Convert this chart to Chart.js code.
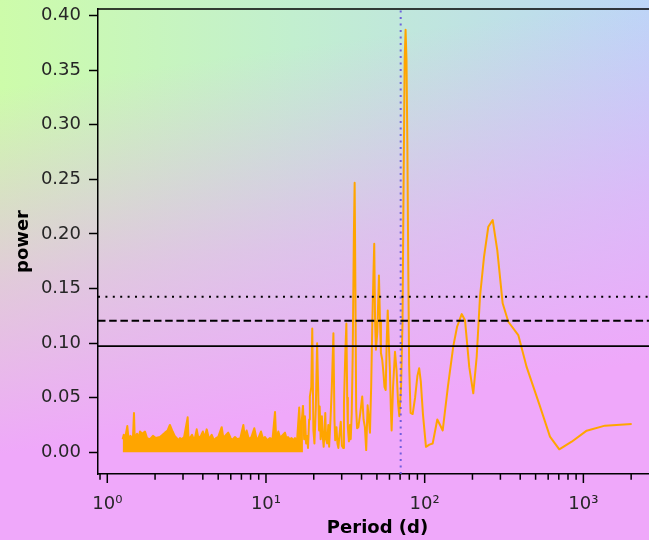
<!DOCTYPE html>
<html>
<head>
<meta charset="utf-8">
<script src="https://cdn.jsdelivr.net/npm/chart.js@4.4.1/dist/chart.umd.min.js"></script>
<style>
  html, body { margin: 0; padding: 0; overflow: hidden; }
  #wrap {
    position: relative; width: 649px; height: 540px; overflow: hidden;
    background:
      linear-gradient(172deg, rgba(239,168,250,0) 14%, rgba(239,168,250,0.6) 45%, rgba(239,168,250,1) 72%),
      linear-gradient(90deg, #cdfcaa 0%, #c2efcf 45%, #bcd6f7 100%);
  }
  canvas { position: absolute; left: 0; top: 0; }
</style>
</head>
<body>
<div id="wrap"><canvas id="c" width="680" height="540"></canvas></div>
<script>
// periodogram: dense noise floor (upper envelope) below ~17 d
const noisePeriod = [1.25, 1.27, 1.30, 1.337, 1.36, 1.40, 1.45, 1.473, 1.49, 1.54, 1.58, 1.607, 1.66, 1.728, 1.78,
  1.858, 1.94, 2.02, 2.148, 2.23, 2.31, 2.40, 2.48, 2.58, 2.66, 2.74, 2.80, 2.87, 2.95, 3.05, 3.21, 3.25, 3.35,
  3.42, 3.50, 3.58, 3.66, 3.75, 3.89, 4.0, 4.1, 4.23, 4.38, 4.55, 4.7, 4.84, 5.0, 5.26, 5.4, 5.52, 5.78, 6.0,
  6.1, 6.38, 6.6, 6.9, 7.2, 7.35, 7.55, 7.8, 8.1, 8.44, 8.7, 8.9, 9.3, 9.6, 9.86, 10.2, 10.6, 11.0, 11.4, 11.6,
  11.96, 12.3, 12.6, 13.18, 13.5, 13.76, 14.1, 14.5, 14.9, 15.23, 15.7, 16.2, 16.5, 17.1];
const noisePower = [0.012, 0.016, 0.014, 0.024, 0.013, 0.015, 0.012, 0.036, 0.012, 0.017, 0.013, 0.019, 0.017, 0.019, 0.013,
  0.012, 0.015, 0.013, 0.014, 0.016, 0.018, 0.020, 0.025, 0.019, 0.015, 0.013, 0.011, 0.013, 0.012, 0.014, 0.032, 0.012, 0.014,
  0.016, 0.012, 0.014, 0.021, 0.013, 0.015, 0.019, 0.013, 0.021, 0.012, 0.016, 0.011, 0.013, 0.014, 0.023, 0.012, 0.015, 0.018, 0.013,
  0.011, 0.014, 0.012, 0.013, 0.025, 0.014, 0.020, 0.012, 0.014, 0.022, 0.013, 0.012, 0.019, 0.012, 0.014, 0.011, 0.013, 0.012, 0.037, 0.012,
  0.019, 0.013, 0.015, 0.018, 0.012, 0.014, 0.012, 0.013, 0.011, 0.013, 0.011, 0.041, 0.013, 0.043];

// periodogram above ~17 d
const period = [17.1, 17.4, 17.6, 17.9, 18.2, 18.4, 18.7, 18.9, 19.3, 19.57, 19.9, 20.2, 20.6, 21.0, 21.3, 21.6, 21.8,
  22.1, 22.5, 22.8, 23.1, 23.4, 23.64, 23.9, 24.3, 24.7, 25.0, 25.5, 26.0, 26.6, 27.0, 27.3, 27.8, 28.2, 28.6, 29.0,
  29.6, 30.1, 30.6, 31.0, 31.6, 32.1, 32.5, 32.8, 33.3, 33.8, 34.2, 34.7, 35.2, 35.8, 36.2, 36.6, 37.0, 37.5, 38.2,
  39.2, 40.4, 41.2, 42.0, 42.8, 43.7, 44.5, 45.2, 46.0, 46.8, 47.5, 48.1, 48.7, 49.3, 50.3, 51.5, 52.3, 53.0, 54.0,
  54.8, 55.8, 56.8, 57.6, 58.5, 59.4, 60.4, 61.2, 61.9, 63.2, 65.0, 66.5, 68.0, 69.2, 71.0, 72.5, 73.7, 74.8, 75.8,
  76.8, 77.8, 78.8, 79.8, 81.5, 84.0, 87.0, 90.0, 92.3, 94.5, 97.5, 101.9, 107.0, 112.3, 120.1, 125.0, 129.9, 140.0,
  151.4, 160.0, 171.1, 179.5, 191.0, 202.4, 212.7, 223.1, 236.5, 251.7, 268.3, 286.8, 310, 336.4, 388.9, 439.3,
  532.9, 615.9, 704.9, 843.9, 1049, 1368, 2015];
const power = [0.043, 0.012, 0.033, 0.008, 0.015, 0.004, 0.030, 0.051, 0.060, 0.1135, 0.020, 0.008, 0.040, 0.0998, 0.060, 0.020, 0.042,
  0.012, 0.033, 0.014, 0.005, 0.020, 0.036, 0.012, 0.008, 0.025, 0.005, 0.030, 0.060, 0.109, 0.030, 0.011, 0.023, 0.008, 0.004, 0.015,
  0.028, 0.006, 0.004, 0.045, 0.090, 0.118, 0.050, 0.023, 0.010, 0.025, 0.012, 0.035, 0.090, 0.200, 0.247, 0.150, 0.040, 0.022, 0.023,
  0.035, 0.051, 0.030, 0.023, 0.002, 0.043, 0.030, 0.018, 0.060, 0.120, 0.160, 0.191, 0.120, 0.094, 0.110, 0.162, 0.120, 0.091, 0.085,
  0.075, 0.060, 0.057, 0.100, 0.130, 0.100, 0.075, 0.040, 0.020, 0.060, 0.092, 0.075, 0.045, 0.033, 0.060, 0.120, 0.250, 0.360, 0.387,
  0.360, 0.280, 0.170, 0.080, 0.036, 0.035, 0.050, 0.070, 0.077, 0.065, 0.035, 0.005, 0.007, 0.008, 0.030, 0.025, 0.020, 0.060,
  0.097, 0.115, 0.1266, 0.121, 0.078, 0.054, 0.0875, 0.1425, 0.179, 0.2066, 0.2127, 0.185, 0.1365, 0.1196, 0.1074, 0.078,
  0.042, 0.0143, 0.0027, 0.0097, 0.0198, 0.0244, 0.0259];

// false-alarm levels: solid, dashed, dotted
const levels = [0.0973, 0.1205, 0.1425];
const markedPeriod = 70.6;

const xRange = [0.874, 2910];
const yRange = [-0.0199, 0.4061];
const yTicks = [0, 0.05, 0.10, 0.15, 0.20, 0.25, 0.30, 0.35, 0.40];
const xMajorTicks = [1, 10, 100, 1000];
const xMajorLabels = ['10⁰', '10¹', '10²', '10³'];
const xMinorTicks = [0.9, 2, 3, 4, 5, 6, 7, 8, 9, 20, 30, 40, 50, 60, 70, 80, 90,
  200, 300, 400, 500, 600, 700, 800, 900, 2000];

const FONT = 'DejaVu Sans';
const ORANGE = '#ffa500';
const pts = (xs, ys) => xs.map((x, i) => ({ x, y: ys[i] }));

const levelDash = [[], [7.5, 3.7], [2, 5.4]];
const levelSets = levels.map((v, i) => ({
  data: [{ x: xRange[0], y: v }, { x: xRange[1], y: v }],
  showLine: true, borderColor: '#000', borderWidth: i === 0 ? 1.7 : 2, borderDash: levelDash[i],
  pointRadius: 0, order: 1
}));

// top/right spines and x tick marks (major long, minor short)
const frame = {
  id: 'frame',
  afterDraw(chart) {
    const { ctx, chartArea: a, scales: { x } } = chart;
    ctx.save();
    ctx.strokeStyle = '#000';
    ctx.lineWidth = 1.5;
    ctx.beginPath();
    ctx.moveTo(a.left, a.top); ctx.lineTo(a.right, a.top); ctx.lineTo(a.right, a.bottom);
    x.ticks.forEach(t => {
      const px = x.getPixelForValue(t.value);
      ctx.moveTo(px, a.bottom);
      ctx.lineTo(px, a.bottom + (t.major ? 9 : 5.7));
    });
    ctx.stroke();
    ctx.restore();
  }
};

new Chart(document.getElementById('c'), {
  type: 'scatter',
  data: {
    datasets: [
      { data: pts(noisePeriod, noisePower), showLine: true, borderColor: ORANGE, backgroundColor: ORANGE,
        fill: 'origin', borderWidth: 2, pointRadius: 0, borderJoinStyle: 'round', order: 3 },
      { data: pts(period, power), showLine: true, borderColor: ORANGE, borderWidth: 2,
        pointRadius: 0, borderJoinStyle: 'round', order: 3 },
      ...levelSets,
      { data: [{ x: markedPeriod, y: yRange[0] }, { x: markedPeriod, y: yRange[1] }], showLine: true,
        borderColor: 'rgba(100,84,220,0.9)', borderWidth: 2, borderDash: [2, 4.5], pointRadius: 0, order: 1 }
    ]
  },
  options: {
    responsive: false, animation: false, devicePixelRatio: 1,
    layout: { padding: { top: 9, right: 23, left: 0, bottom: 0 } },
    plugins: { legend: { display: false }, tooltip: { enabled: false } },
    scales: {
      x: {
        type: 'logarithmic', min: xRange[0], max: xRange[1],
        afterBuildTicks: s => {
          s.ticks = [...xMinorTicks, ...xMajorTicks].sort((a, b) => a - b)
            .map(v => ({ value: v, major: xMajorTicks.includes(v) }));
        },
        afterFit: s => { s.height = 66; s.paddingLeft = 0; s.paddingRight = 0; },
        grid: { display: false, drawTicks: false },
        border: { display: true, color: '#000', width: 1.5 },
        ticks: {
          autoSkip: false, maxRotation: 0, minRotation: 0, padding: 20, color: '#262626',
          font: { family: FONT, size: 18 },
          callback: v => { const k = xMajorTicks.indexOf(v); return k >= 0 ? xMajorLabels[k] : ''; }
        },
        title: { display: true, text: 'Period (d)', color: '#000',
          font: { family: FONT, size: 18, weight: 'bold' }, padding: { top: 0, bottom: 1 } }
      },
      y: {
        min: yRange[0], max: yRange[1],
        afterBuildTicks: s => { s.ticks = yTicks.map(v => ({ value: v })); },
        afterFit: s => { s.width = 98; s.paddingTop = 0; s.paddingBottom = 0; },
        grid: { drawOnChartArea: false, drawTicks: true, tickLength: 9, tickWidth: 1.5, tickColor: '#000' },
        border: { display: true, color: '#000', width: 1.5 },
        ticks: { padding: 8, color: '#262626', font: { family: FONT, size: 18 }, callback: v => v.toFixed(2) },
        title: { display: true, text: 'power', color: '#000',
          font: { family: FONT, size: 18, weight: 'bold' }, padding: { top: 13 } }
      }
    }
  },
  plugins: [frame]
});
</script>
</body>
</html>
